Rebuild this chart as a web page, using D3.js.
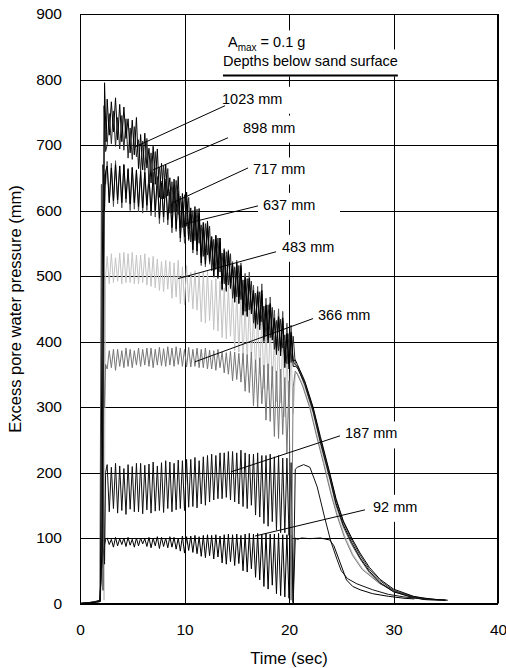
<!DOCTYPE html>
<html>
<head>
<meta charset="utf-8">
<script src="https://cdn.jsdelivr.net/npm/d3@7"></script>
<style>
  body { margin: 0; background: #fff; }
  text { font-family: Arial, "Liberation Sans", sans-serif; fill: #000; }
</style>
</head>
<body>
<div class="chart"></div>
<script>
// Excess pore water pressure vs time, Amax = 0.1 g

var timeTicks = [0, 10, 20, 30, 40];
var pressureTicks = [0, 100, 200, 300, 400, 500, 600, 700, 800, 900];

// samples during shaking start at 2.6 s, one every 0.2 s
var shakeStart = 2.6, shakeStep = 0.2;

var pre1023 = [[0, 0], [1.0, 1], [1.9, 3], [2.1, 80], [2.35, 795], [2.5, 705]];
var shake1023 = [770, 715, 766, 720, 772, 708, 762, 705, 758, 710, 740, 688, 738, 685, 742,
  664, 716, 662, 718, 665, 695, 642, 698, 640, 694, 620, 672, 618, 670, 622,
  650, 596, 648, 598, 652, 574, 626, 575, 628, 572, 604, 552, 606, 550, 603,
  530, 582, 532, 584, 528, 560, 508, 562, 510, 558, 488, 540, 486, 538, 490,
  518, 466, 520, 468, 516, 448, 498, 446, 496, 450, 478, 428, 476, 430, 478,
  408, 456, 410, 458, 406, 436, 390, 438, 388, 436, 368, 412, 366, 410, 370, 372];
var post1023 = [[20.8, 365], [21.5, 340], [22.3, 300], [23.0, 255], [23.9, 199], [24.5, 160], [25.2, 126],
  [26.0, 100], [26.8, 77], [27.7, 55], [28.7, 37], [30, 22], [31.9, 11], [33, 8], [34.2, 6], [35.2, 5]];

var pre898 = [[0, 0], [1.0, 1], [1.9, 4], [2.15, 80], [2.3, 760], [2.45, 690]];
var shake898 = [700, 748, 702, 752, 698, 742, 694, 745, 692, 740, 680, 726, 678, 728, 682,
  708, 660, 706, 662, 710, 640, 688, 642, 690, 638, 666, 618, 668, 620, 664,
  596, 644, 598, 646, 594, 622, 574, 624, 576, 620, 552, 600, 554, 602, 550,
  578, 530, 580, 532, 576, 508, 556, 510, 558, 506, 535, 488, 537, 486, 534,
  466, 514, 468, 516, 464, 494, 446, 496, 448, 492, 428, 474, 426, 476, 430,
  454, 408, 456, 406, 452, 388, 432, 386, 434, 390, 410, 366, 412, 368, 408, 366];
var post898 = [[20.8, 362], [21.5, 338], [22.3, 298], [23.0, 252], [23.9, 197], [24.5, 158], [25.2, 124],
  [26.0, 97], [26.8, 74], [27.7, 52], [28.7, 35], [30, 20], [31.9, 10], [33, 7], [35.0, 5]];

var pre717 = [[0, 0], [1.2, 2], [1.95, 4], [2.2, 670], [2.35, 600], [2.45, 660]];
var shake717 = [668, 612, 665, 615, 670, 616, 668, 612, 670, 618, 664, 610, 666, 612, 662,
  606, 660, 604, 658, 608, 652, 598, 654, 600, 650, 588, 642, 590, 644, 586,
  628, 574, 630, 572, 626, 558, 612, 560, 614, 556, 594, 540, 596, 538, 592,
  520, 574, 518, 576, 522, 554, 500, 556, 498, 552, 480, 534, 478, 536, 482,
  514, 460, 516, 458, 512, 440, 494, 438, 496, 442, 474, 420, 476, 418, 472,
  400, 454, 398, 456, 402, 434, 380, 436, 378, 432, 360, 412, 358, 414, 362, 362];
var post717 = [[20.8, 360], [21.5, 336], [22.3, 295], [23.0, 248], [23.9, 193], [24.5, 153], [25.2, 120],
  [26.0, 93], [26.8, 70], [27.7, 49], [28.7, 32], [30, 18], [31.9, 9], [33, 6], [35, 5]];

var pre637 = [[0, 0], [1.2, 2], [1.9, 3], [2.05, 640], [2.2, 20], [2.35, 655], [2.45, 640]];
var shake637 = [675, 612, 672, 606, 676, 610, 668, 604, 670, 612, 662, 600, 665, 602, 660,
  598, 660, 596, 664, 600, 655, 592, 658, 590, 652, 580, 645, 582, 648, 578,
  632, 566, 635, 568, 630, 552, 615, 550, 618, 554, 598, 535, 600, 532, 596,
  516, 580, 514, 582, 518, 560, 498, 562, 496, 558, 478, 542, 476, 540, 480,
  522, 460, 524, 458, 520, 442, 504, 440, 506, 444, 486, 422, 484, 424, 488,
  404, 466, 402, 468, 406, 448, 386, 450, 384, 446, 368, 428, 366, 425, 370, 364];
var post637 = [[20.8, 362], [21.5, 333], [22.3, 292], [23.0, 245], [23.9, 190], [24.5, 150], [25.2, 117],
  [26.0, 90], [26.8, 68], [27.7, 47], [28.7, 31], [30, 18], [31.9, 9], [33, 6], [34.8, 5]];

var pre483 = [[0, 0], [1.2, 2], [1.95, 4], [2.15, 480], [2.3, 5], [2.45, 500]];
var shake483 = [530, 488, 534, 490, 528, 492, 535, 488, 536, 490, 534, 490, 536, 488, 532,
  488, 532, 490, 534, 486, 528, 484, 530, 482, 526, 478, 522, 476, 524, 480,
  522, 466, 520, 468, 524, 458, 514, 456, 516, 460, 506, 450, 508, 448, 504,
  430, 506, 428, 508, 432, 494, 418, 496, 416, 492, 406, 482, 404, 484, 408,
  474, 386, 476, 384, 472, 370, 458, 368, 460, 372, 440, 352, 442, 350, 438,
  328, 428, 326, 430, 330, 408, 308, 410, 306, 406, 285, 385, 282, 388, 290, 350];
var post483 = [[20.8, 352], [21.3, 335], [22.0, 301], [22.6, 262], [23.3, 219], [24.0, 172], [24.6, 138],
  [25.3, 105], [26.1, 76], [27.0, 54], [28.7, 31], [30.5, 17], [32, 10], [34, 6], [35, 5]];

var pre366 = [[0, 0], [1.2, 2], [1.95, 4], [2.2, 370], [2.35, 300], [2.45, 365]];
var shake366 = [358, 386, 360, 388, 356, 388, 362, 386, 360, 390, 362, 388, 360, 386, 364,
  390, 362, 388, 364, 390, 362, 390, 360, 388, 364, 391, 363, 389, 362, 392,
  364, 390, 362, 392, 365, 390, 362, 388, 361, 391, 361, 388, 362, 390, 360,
  388, 360, 390, 358, 387, 358, 386, 356, 388, 360, 384, 352, 383, 350, 385,
  340, 384, 342, 382, 338, 382, 324, 380, 322, 384, 302, 372, 300, 375, 305,
  364, 280, 366, 278, 362, 255, 355, 252, 358, 258, 345, 230, 340, 5, 330, 355];
var post366 = [[20.8, 350], [21.3, 332], [22.0, 298], [22.6, 258], [23.3, 214], [24.0, 168], [24.6, 134],
  [25.3, 101], [26.1, 73], [27.0, 52], [28.7, 30], [30.5, 16], [32, 10], [34, 6], [35, 5]];

var pre187 = [[0, 0], [1.0, 1], [1.95, 3], [2.2, 210], [2.35, 60], [2.45, 200]];
var shake187 = [212, 140, 208, 145, 214, 138, 210, 142, 206, 136, 212, 144, 209, 140, 214,
  140, 214, 137, 211, 143, 213, 138, 216, 141, 210, 142, 215, 139, 218, 145,
  216, 140, 214, 143, 219, 145, 218, 142, 220, 147, 220, 148, 223, 146, 218,
  152, 224, 150, 226, 155, 228, 158, 226, 160, 230, 160, 230, 162, 232, 158,
  232, 155, 230, 152, 234, 148, 230, 145, 228, 150, 228, 135, 230, 132, 226,
  122, 226, 118, 228, 125, 224, 112, 226, 108, 222, 108, 222, 104, 215, 2, 205];
var post187 = [[20.8, 208], [21.4, 212], [22.0, 208], [22.7, 178], [23.4, 132], [24.0, 95], [24.6, 67],
  [25.0, 50], [25.6, 38], [26.5, 30], [28.0, 21], [29.5, 14], [31, 10], [33, 7]];

var pre92 = [[0, 0], [1.2, 2], [1.9, 5], [2.05, 50], [2.3, 86], [2.45, 98]];
var shake92 = [100, 90, 98, 86, 101, 88, 99, 90, 100, 87, 101, 89, 98, 86, 100,
  88, 100, 91, 99, 87, 101, 85, 100, 88, 102, 84, 101, 87, 100, 85,
  102, 86, 101, 83, 100, 80, 103, 77, 102, 81, 103, 78, 104, 76, 102,
  72, 104, 70, 105, 73, 104, 68, 105, 71, 103, 62, 105, 60, 106, 64,
  105, 58, 106, 61, 104, 50, 106, 48, 107, 53, 106, 40, 107, 36, 105,
  26, 107, 22, 106, 28, 106, 15, 107, 12, 105, 10, 105, 8, 104, 0, 100];
var post92 = [[20.8, 98], [21.2, 100], [22, 99], [23, 100], [23.9, 97], [24.3, 88], [24.9, 62],
  [25.5, 36], [26.1, 26], [26.8, 21], [28, 15], [29.5, 11], [31, 8], [32, 7]];

function build(pre, shake, post) {
  return pre.concat(shake.map(function (v, i) { return [shakeStart + i * shakeStep, v]; }), post);
}

// draw order: later ones end up on top
var series = [
  { name: '483 mm', color: '#c4c4c4', pts: build(pre483, shake483, post483) },
  { name: '92 mm', color: '#000', pts: build(pre92, shake92, post92) },
  { name: '187 mm', color: '#111', pts: build(pre187, shake187, post187) },
  { name: '366 mm', color: '#767676', pts: build(pre366, shake366, post366) },
  { name: '637 mm', color: '#505050', pts: build(pre637, shake637, post637) },
  { name: '717 mm', color: '#000', pts: build(pre717, shake717, post717) },
  { name: '898 mm', color: '#2a2a2a', pts: build(pre898, shake898, post898) },
  { name: '1023 mm', color: '#000', pts: build(pre1023, shake1023, post1023) }
];

// labels: [time, pressure] of text start, leader from / to
var labels = [
  { text: '1023 mm', at: [13.59, 763], from: [13.88, 760], to: [5.26, 697], w: 80 },
  { text: '898 mm', at: [15.6, 719], from: [14.16, 711], to: [6.99, 662], w: 89 },
  { text: '717 mm', at: [16.56, 655], from: [16.08, 665], to: [8.9, 612], w: 75 },
  { text: '637 mm', at: [17.51, 601], from: [17.03, 607], to: [10.14, 580], w: 82 },
  { text: '483 mm', at: [19.33, 537], from: [18.76, 537], to: [9.38, 496], w: 70 },
  { text: '366 mm', at: [22.78, 433], from: [22.3, 435], to: [11.0, 369], w: 68 },
  { text: '187 mm', at: [25.36, 252], from: [24.88, 256], to: [14.45, 201], w: 66 },
  { text: '92 mm', at: [28.04, 140], from: [27.27, 143], to: [16.75, 103], w: 56 }
];

var W = 506, H = 668;
var svg = d3.select('.chart').append('svg').attr('width', W).attr('height', H);

var x = d3.scaleLinear().domain([0, 40]).range([80, 498]);
var y = d3.scaleLinear().domain([0, 900]).range([603.5, 14]);

function crisp(v) { return Math.round(v) + 0.5; }

// grid
svg.append('g').selectAll('line').data(pressureTicks).enter().append('line')
  .attr('x1', x(0)).attr('x2', x(40))
  .attr('y1', d => crisp(y(d))).attr('y2', d => crisp(y(d)))
  .attr('stroke', '#000').attr('stroke-width', 1);
svg.append('g').selectAll('line').data(timeTicks).enter().append('line')
  .attr('y1', y(0)).attr('y2', y(900))
  .attr('x1', d => crisp(x(d))).attr('x2', d => crisp(x(d)))
  .attr('stroke', '#000').attr('stroke-width', 1);

// data
var line = d3.line().x(d => x(d[0])).y(d => y(d[1]));
svg.append('g').selectAll('path').data(series).enter().append('path')
  .attr('d', d => line(d.pts))
  .attr('fill', 'none')
  .attr('stroke', d => d.color)
  .attr('stroke-width', 1)
  .attr('stroke-linejoin', 'round');

// annotation boxes
var ann = svg.append('g');
function box(tx, base, w) {
  ann.append('rect').attr('x', tx - 5).attr('y', base - 17).attr('width', w).attr('height', 27).attr('fill', '#fff');
}

box(x(14.16), y(849), 100);
box(x(13.68), y(820), 183);
labels.forEach(function (l) { box(x(l.at[0]), y(l.at[1]), l.w); });

labels.forEach(function (l) {
  ann.append('line')
    .attr('x1', x(l.from[0])).attr('y1', y(l.from[1]))
    .attr('x2', x(l.to[0])).attr('y2', y(l.to[1]))
    .attr('stroke', '#000').attr('stroke-width', 1);
  ann.append('text').attr('x', x(l.at[0])).attr('y', y(l.at[1]))
    .style('font-size', '14.5px').text(l.text);
});

var amax = ann.append('text').attr('x', x(14.16)).attr('y', y(849)).style('font-size', '14.5px');
amax.append('tspan').text('A');
amax.append('tspan').attr('dy', 4).style('font-size', '10px').text('max');
amax.append('tspan').attr('dy', -4).text(' = 0.1 g');

var dep = ann.append('text').attr('x', x(13.68)).attr('y', y(820)).style('font-size', '14.5px')
  .text('Depths below sand surface');
var dw = dep.node().getComputedTextLength();
ann.append('line')
  .attr('x1', x(13.68)).attr('x2', x(13.68) + dw)
  .attr('y1', y(820) + 9).attr('y2', y(820) + 9)
  .attr('stroke', '#000').attr('stroke-width', 2);

// frame
svg.append('rect').attr('x', 80.5).attr('y', 14.5).attr('width', 417).attr('height', 589)
  .attr('fill', 'none').attr('stroke', '#000');

// axes
var xAxis = svg.append('g').attr('transform', 'translate(0,' + y(0) + ')')
  .call(d3.axisBottom(x).tickValues(timeTicks).tickSize(0).tickPadding(20));
var yAxis = svg.append('g').attr('transform', 'translate(' + x(0) + ',0)')
  .call(d3.axisLeft(y).tickValues(pressureTicks).tickSize(0).tickPadding(18));
[xAxis, yAxis].forEach(function (a) {
  a.select('.domain').remove();
  a.selectAll('text').style('font-size', '15.5px').style('font-family', 'Arial, "Liberation Sans", sans-serif').attr('fill', '#000');
});

svg.append('text').attr('x', 289).attr('y', 664).attr('text-anchor', 'middle')
  .style('font-size', '16.5px').text('Time (sec)');
svg.append('text').attr('transform', 'translate(21,309) rotate(-90)').attr('text-anchor', 'middle')
  .style('font-size', '16.5px').text('Excess pore water pressure (mm)');
</script>
</body>
</html>
